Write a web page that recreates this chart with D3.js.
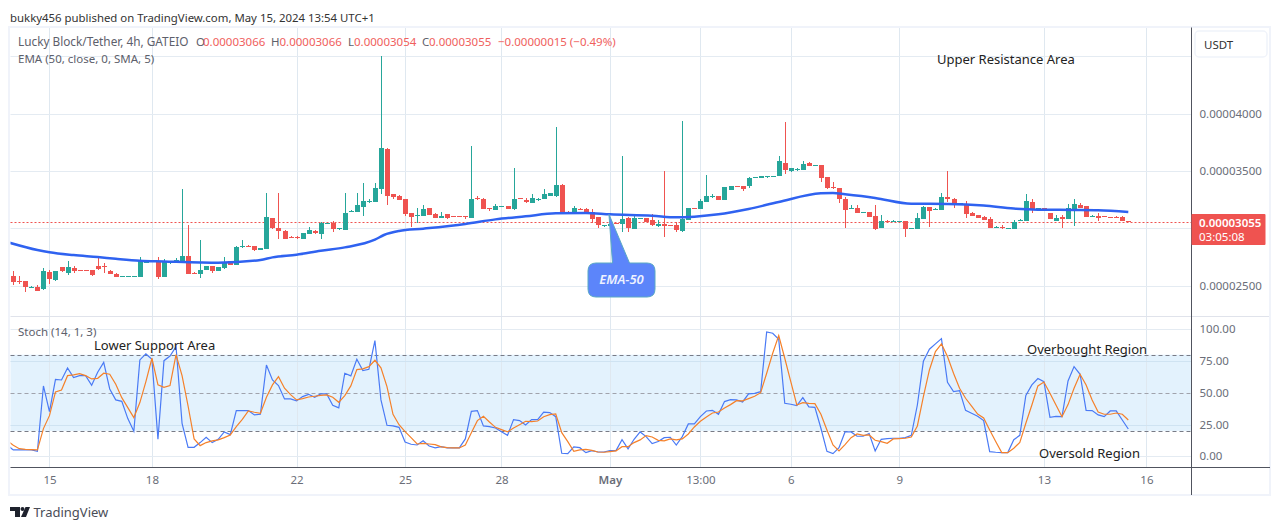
<!DOCTYPE html>
<html>
<head>
<meta charset="utf-8">
<script src="https://cdn.jsdelivr.net/npm/d3@7"></script>
<style>
body { margin: 0; background: #fff; }
svg { display: block; }
text { font-family: "Noto Sans", sans-serif; }
</style>
</head>
<body>
<script>
// prices are in units of 0.00000001
const opens = [2584,2538,2538,2483,2488,2465,2616,2544,2660,2610,
2654,2637,2637,2634,2669,2674,2628,2602,2578,2578,
2578,2578,2701,2724,2715,2578,2692,2715,2718,2759,
2610,2605,2637,2672,2631,2648,2712,2683,2837,2846,
2843,2814,2823,3090,3000,2977,2927,2924,2907,2953,
2980,2953,3041,3047,2994,2988,3145,3145,3189,3233,
3233,3346,3695,3299,3282,3256,3134,3102,3110,3177,
3125,3093,3125,3105,3105,3105,3093,3267,3259,3174,
3160,3189,3195,3172,3262,3244,3224,3253,3256,3282,
3282,3378,3142,3128,3169,3169,3140,3096,3020,3023,
3047,3032,3090,2997,3084,3090,3070,3020,3038,3029,
3026,2977,3076,3177,3172,3233,3279,3282,3250,3337,
3369,3366,3369,3442,3442,3451,3451,3456,3570,3500,
3512,3512,3570,3547,3552,3445,3358,3352,3256,3172,
3177,3137,3142,3108,3000,3061,3055,3055,3064,2997,
2997,3084,3186,3163,3163,3273,3256,3209,3215,3134,
3116,3099,3081,3003,3012,3000,2997,3067,3064,3230,
3166,3177,3134,3064,3099,3084,3160,3203,3195,3102,
3108,3108,3102,3102,3099,3066];
const highs = [2628,2584,2544,2497,2506,2654,2637,2628,2666,2715,
2669,2637,2637,2634,2759,2695,2637,2610,2581,2581,
2581,2747,2724,2724,2747,2730,2712,2744,3343,3029,
2616,2898,2672,2672,2663,2750,2712,2846,2898,2855,
2843,2828,3308,3093,3308,2985,2933,2933,2956,3012,
2988,3052,3047,3061,3000,3308,3160,3308,3395,3256,
3395,4503,3701,3299,3288,3256,3134,3177,3201,3177,
3131,3142,3125,3105,3105,3105,3718,3282,3265,3174,
3212,3195,3195,3526,3265,3262,3299,3267,3343,3308,
3884,3387,3148,3195,3180,3177,3169,3096,3026,3055,
3047,3631,3102,3122,3090,3090,3125,3073,3500,3029,
3052,3936,3177,3177,3259,3465,3302,3282,3360,3369,
3369,3366,3448,3448,3456,3456,3456,3631,3927,3526,
3526,3587,3578,3552,3552,3445,3404,3352,3270,3201,
3201,3142,3142,3203,3116,3070,3070,3061,3064,3003,
3134,3195,3186,3180,3308,3500,3262,3221,3238,3142,
3116,3105,3096,3020,3026,3006,3070,3084,3299,3256,
3177,3177,3134,3116,3116,3212,3256,3221,3195,3116,
3134,3108,3102,3110,3108,3066];
const lows = [2506,2515,2448,2480,2456,2462,2515,2544,2622,2593,
2613,2631,2631,2587,2640,2613,2605,2578,2578,2578,
2578,2578,2701,2712,2561,2578,2692,2715,2715,2605,
2605,2567,2637,2613,2631,2648,2680,2683,2828,2840,
2805,2814,2823,2991,2910,2910,2916,2907,2907,2953,
2951,2910,3041,2971,2988,2988,3145,3145,3110,3218,
3233,3302,3203,3256,3250,3108,3015,3049,3110,3119,
3093,3093,3081,3099,3099,3084,3093,3247,3172,3151,
3160,3189,3172,3160,3256,3224,3224,3241,3256,3282,
3270,3131,3125,3128,3163,3134,3049,3006,3012,3023,
3041,2968,2968,2997,3084,3055,3023,3012,2927,3023,
2968,2968,3076,3172,3172,3233,3267,3250,3250,3337,
3363,3326,3355,3442,3442,3442,3448,3456,3474,3494,
3500,3512,3547,3547,3407,3346,3346,3221,3006,3172,
3137,3137,3102,2988,3000,3047,3055,3055,2927,2997,
2997,3084,3015,3163,3163,3233,3180,3209,3093,3110,
3090,3076,3003,3003,2997,3000,2997,3067,3064,3134,
3166,3166,3084,3064,3006,3084,3020,3180,3099,3102,
3064,3099,3096,3096,3067,3054];
const closes = [2535,2532,2483,2491,2456,2625,2552,2625,2622,2660,
2631,2631,2631,2587,2640,2669,2605,2578,2581,2581,
2581,2715,2724,2712,2578,2715,2712,2721,2759,2605,
2605,2637,2672,2631,2663,2703,2680,2837,2843,2840,
2811,2828,3099,3006,2971,2910,2919,2919,2956,2985,
2959,3047,3047,2997,3000,3134,3154,3203,3238,3238,
3352,3701,3285,3273,3250,3125,3099,3113,3169,3119,
3093,3108,3090,3099,3099,3099,3256,3256,3172,3169,
3192,3195,3172,3256,3256,3224,3265,3259,3299,3308,
3378,3131,3134,3177,3163,3134,3076,3023,3026,3038,
3041,3078,3003,3090,3090,3055,3023,3038,3023,3023,
2980,3078,3177,3172,3238,3282,3285,3250,3360,3369,
3363,3343,3439,3448,3456,3456,3456,3587,3509,3526,
3517,3561,3547,3552,3442,3352,3346,3259,3163,3177,
3137,3142,3102,2994,3061,3055,3061,3061,2997,3003,
3090,3186,3154,3169,3273,3256,3215,3221,3125,3110,
3090,3076,3003,3012,3003,3006,3055,3076,3238,3163,
3177,3166,3084,3090,3084,3177,3212,3180,3099,3108,
3090,3099,3096,3096,3067,3055];

const emaBars = [-1,4,6,10,14,17,21,25,31,34,41,43,47,51,55,60,61.5,64,68,75,80,85,90,95,99,106,110,113,117,122,127,134,136,138,143,149,155,161,166,170,176,180,185];
const emaValues = [2880,2811,2791,2767,2750,2735,2718,2712,2703,2701,2724,2747,2770,2805,2834,2901,2942,2977,2997,3038,3078,3105,3131,3134,3122,3110,3096,3102,3122,3169,3230,3305,3308,3297,3265,3215,3212,3198,3172,3163,3160,3157,3142];

// stoch series start one bar before the first candle
const stochK = [8.7,5.0,5.0,5.3,5.0,3.9,55.4,35.2,60.6,60.1,69.6,62.0,63.5,63.5,55.9,66.2,74.0,53.0,44.4,43.3,29.7,19.7,
75.9,80.6,76.4,13.4,75.3,79.0,86.4,26.0,7.1,7.1,10.8,15.0,10.8,13.4,19.2,17.1,36.0,36.0,36.0,32.6,33.1,71.9,60.1,55.7,
45.2,45.2,43.6,47.0,48.8,46.5,49.1,49.1,40.2,38.1,65.4,63.3,76.4,67.5,68.5,91.1,44.4,24.4,23.9,22.8,11.3,9.5,8.9,12.3,
8.1,6.6,7.6,6.6,6.6,6.6,13.7,35.4,36.0,23.9,23.4,22.3,19.4,16.5,28.9,28.1,24.7,28.9,28.9,34.7,34.4,31.2,2.4,2.1,7.4,
6.8,2.9,4.5,3.4,3.4,4.5,4.5,13.1,5.8,13.4,19.2,15.5,10.0,11.6,14.7,15.0,8.9,15.5,25.5,25.5,31.2,35.7,36.2,33.1,43.1,
44.6,44.4,42.8,49.1,49.6,50.9,97.9,96.9,92.1,41.7,41.0,39.9,46.2,38.9,38.6,22.1,3.9,2.1,6.8,19.2,19.2,15.8,15.8,17.9,
4.2,13.4,13.9,14.2,14.2,14.7,16.5,40.4,74.8,84.3,88.5,92.7,58.3,50.9,51.7,36.2,33.9,31.5,28.1,3.7,3.2,2.9,2.9,13.1,
16.5,48.0,56.2,61.2,58.8,30.7,31.5,31.2,59.3,70.6,64.6,36.2,36.0,32.6,31.2,35.7,35.7,28.6,21.5];
const stochD = [12.3,8.7,6.0,5.5,5.3,5.0,21.8,32.0,50.7,52.2,63.5,64.1,65.1,63.5,60.9,61.4,65.4,64.6,56.7,46.2,38.3,30.5,
42.3,58.8,77.2,56.2,54.3,55.7,80.1,63.5,39.6,13.7,8.4,10.8,12.1,12.9,14.7,16.8,23.4,29.1,35.7,34.7,33.9,46.5,56.2,62.7,
53.6,48.6,44.4,45.4,46.7,47.3,48.0,48.3,46.5,42.5,47.8,55.4,68.3,68.8,70.6,75.6,69.6,54.9,33.1,24.9,19.4,14.7,9.7,10.2,
9.7,9.2,7.4,6.8,6.6,6.6,8.9,18.6,28.1,31.5,27.0,22.8,21.0,19.2,22.3,24.9,27.6,27.3,27.8,31.2,32.8,33.3,18.6,11.6,3.9,
5.0,5.5,4.7,3.4,3.2,3.7,4.2,7.6,7.6,10.8,12.9,16.3,15.2,12.6,12.1,13.7,12.9,13.7,17.6,23.1,27.6,31.0,34.1,34.9,38.1,
40.7,43.8,43.6,45.4,47.3,50.1,65.4,81.1,95.0,77.2,58.8,40.4,42.3,41.7,41.5,33.1,20.7,8.9,4.2,9.2,14.7,17.6,16.5,16.8,
12.6,11.6,10.2,13.7,13.9,14.2,15.2,23.9,47.0,68.0,82.4,88.5,78.5,65.4,53.6,45.7,39.6,33.3,30.2,20.7,11.6,2.9,2.9,6.3,
11.0,26.0,40.4,55.4,58.5,49.6,40.4,31.2,40.7,53.6,64.6,56.2,44.4,34.9,33.1,33.1,34.1,33.1,28.6];

const timeBars = [6,23,47,65,81,99,114,129,147,171,188];
const timeLabels = ["15","18","22","25","28","May","13:00","6","9","13","16"];
const priceTicks = [2500,3000,3500,4000,4500];
const priceLabelTicks = [2500,3500,4000];
const stochTicks = [0,25,50,75,100];
const lastPrice = 3055;

const width = 1281, height = 530;
const paneLeft = 10.5, paneRight = 1191.5, paneTop = 27.5, paneSep = 316.5, paneBottom = 467.5;
const green = "#26a69a", red = "#ef5350", grid = "#e4ebf2", axisText = "#6a6d78";
const axisFont = 11.5;

var x = d3.scaleLinear().domain([0, 185]).range([13.3, 1128.3]);
var y = d3.scaleLinear().domain([2500, 4000]).range([285.7, 113.6]);
var yStoch = d3.scaleLinear().domain([0, 100]).range([456.3, 329.3]);

var svg = d3.select("body").append("svg")
  .attr("width", width)
  .attr("height", height);

svg.append("text").attr("x", 10).attr("y", 22)
  .attr("font-size", 11.4).attr("fill", "#333")
  .text("bukky456 published on TradingView.com, May 15, 2024 13:54 UTC+1");

// frame
svg.append("rect").attr("x", 9).attr("y", 27).attr("width", 1261).attr("height", 468)
  .attr("fill", "#fff").attr("stroke", "#f0f3fa").attr("stroke-width", 2);

var defs = svg.append("defs");
defs.append("clipPath").attr("id", "mainClip").append("rect")
  .attr("x", paneLeft).attr("y", paneTop).attr("width", paneRight - paneLeft).attr("height", paneSep - paneTop);
defs.append("clipPath").attr("id", "stochClip").append("rect")
  .attr("x", paneLeft).attr("y", paneSep).attr("width", paneRight - paneLeft).attr("height", paneBottom - paneSep);

// stoch band sits under the grid
svg.append("rect")
  .attr("x", paneLeft).attr("width", paneRight - paneLeft)
  .attr("y", yStoch(80)).attr("height", yStoch(20) - yStoch(80))
  .attr("fill", "#e3f2fd");

// grid + time axis
var timeAxis = d3.axisBottom(x)
  .tickValues(timeBars)
  .tickSize(-(paneBottom - paneTop))
  .tickPadding(8)
  .tickFormat(function(d, i) { return timeLabels[i]; });
var timeG = svg.append("g")
  .attr("transform", "translate(0," + paneBottom + ")")
  .call(timeAxis);
timeG.select(".domain").remove();
timeG.selectAll("line").attr("stroke", "#dfe8f0").attr("shape-rendering", "crispEdges");
timeG.selectAll("text").attr("fill", axisText).attr("font-size", axisFont)
  .attr("font-family", '"Noto Sans", sans-serif')
  .attr("font-weight", function(d, i) { return timeLabels[i] == "May" ? 600 : 400; });

svg.append("g").selectAll("line").data(priceTicks).enter().append("line")
  .attr("x1", paneLeft).attr("x2", paneRight)
  .attr("y1", function(d) { return Math.round(y(d)) + 0.5; })
  .attr("y2", function(d) { return Math.round(y(d)) + 0.5; })
  .attr("stroke", grid);

svg.append("g").selectAll("line").data(stochTicks.filter(function(d) { return d != 50; })).enter().append("line")
  .attr("x1", paneLeft).attr("x2", paneRight)
  .attr("y1", function(d) { return Math.round(yStoch(d)) + 0.5; })
  .attr("y2", function(d) { return Math.round(yStoch(d)) + 0.5; })
  .attr("stroke", function(d) { return d == 25 || d == 75 ? "#cfe3f2" : grid; });

svg.append("line").attr("x1", paneLeft).attr("x2", 1269).attr("y1", paneSep).attr("y2", paneSep).attr("stroke", "#e0e3eb");

// last price dotted line
svg.append("line")
  .attr("x1", paneLeft).attr("x2", paneRight)
  .attr("y1", Math.round(y(lastPrice)) + 0.5).attr("y2", Math.round(y(lastPrice)) + 0.5)
  .attr("stroke", red).attr("stroke-width", 1).attr("stroke-dasharray", "2,2");

// candles
var candles = svg.append("g").attr("clip-path", "url(#mainClip)")
  .selectAll("g").data(d3.range(opens.length)).enter().append("g")
  .attr("shape-rendering", "crispEdges");
var colour = function(i) { return closes[i] >= opens[i] ? green : red; };
candles.append("line")
  .attr("x1", function(i) { return Math.round(x(i)) + 0.5; })
  .attr("x2", function(i) { return Math.round(x(i)) + 0.5; })
  .attr("y1", function(i) { return y(highs[i]); })
  .attr("y2", function(i) { return y(lows[i]); })
  .attr("stroke", colour);
candles.append("rect")
  .attr("x", function(i) { return Math.round(x(i)) - 2; })
  .attr("width", 5)
  .attr("y", function(i) { return Math.round(y(Math.max(opens[i], closes[i]))); })
  .attr("height", function(i) { return Math.max(1, Math.round(Math.abs(y(opens[i]) - y(closes[i])))); })
  .attr("fill", colour);

// EMA
var emaLine = d3.line()
  .x(function(d, i) { return x(emaBars[i]); })
  .y(function(d) { return y(d); })
  .curve(d3.curveMonotoneX);
svg.append("path").attr("clip-path", "url(#mainClip)")
  .attr("d", emaLine(emaValues))
  .attr("fill", "none").attr("stroke", "#2f62f0").attr("stroke-width", 2.5);

// EMA-50 callout
var tipX = x(99) - 1, tipY = y(3122);
svg.append("path")
  .attr("d", "M596,263 L" + (tipX + 3.5) + ",263 L" + tipX + "," + tipY + " L629.5,263 L647,263 Q655,263 655,271 L655,289 Q655,297 647,297 L596,297 Q588,297 588,289 L588,271 Q588,263 596,263 Z")
  .attr("fill", "#5c85fa").attr("stroke", "#5aa9c4").attr("stroke-width", 1);
svg.append("text").attr("x", 621.5).attr("y", 284).attr("text-anchor", "middle")
  .attr("font-size", 13).attr("font-style", "italic").attr("font-weight", 600)
  .attr("fill", "#eef2ff").text("EMA-50");

// stoch levels
svg.append("g").selectAll("line").data([80, 50, 20]).enter().append("line")
  .attr("x1", paneLeft).attr("x2", paneRight)
  .attr("y1", function(d) { return Math.round(yStoch(d)) + 0.5; })
  .attr("y2", function(d) { return Math.round(yStoch(d)) + 0.5; })
  .attr("stroke", function(d) { return d == 50 ? "#a0a3ac" : "#787b86"; })
  .attr("stroke-dasharray", "4,3");

var stochLine = d3.line()
  .x(function(d, i) { return x(i - 1); })
  .y(function(d) { return yStoch(d); });
var stochG = svg.append("g").attr("clip-path", "url(#stochClip)");
stochG.append("path").attr("d", stochLine(stochK))
  .attr("fill", "none").attr("stroke", "#4a7af5").attr("stroke-width", 1.2);
stochG.append("path").attr("d", stochLine(stochD))
  .attr("fill", "none").attr("stroke", "#f5812a").attr("stroke-width", 1.2);

// axis lines
svg.append("line").attr("x1", paneRight).attr("x2", paneRight).attr("y1", paneTop).attr("y2", 495).attr("stroke", "#50535e");
svg.append("line").attr("x1", paneLeft).attr("x2", 1270).attr("y1", paneBottom).attr("y2", paneBottom).attr("stroke", "#50535e");

// price axis
var priceAxis = d3.axisRight(y).tickValues(priceLabelTicks).tickSize(0).tickPadding(8)
  .tickFormat(function(d) { return (d / 1e8).toFixed(8); });
var priceG = svg.append("g").attr("transform", "translate(" + paneRight + ",0)").call(priceAxis);
priceG.select(".domain").remove();
priceG.selectAll("text").attr("fill", axisText).attr("font-size", axisFont)
  .attr("font-family", '"Noto Sans", sans-serif');

var stochAxis = d3.axisRight(yStoch).tickValues(stochTicks).tickSize(0).tickPadding(8)
  .tickFormat(function(d) { return d.toFixed(2); });
var stochAxisG = svg.append("g").attr("transform", "translate(" + paneRight + ",0)").call(stochAxis);
stochAxisG.select(".domain").remove();
stochAxisG.selectAll("text").attr("fill", axisText).attr("font-size", axisFont)
  .attr("font-family", '"Noto Sans", sans-serif');

// USDT button
svg.append("rect").attr("x", 1195).attr("y", 31).attr("width", 72).attr("height", 26).attr("rx", 4)
  .attr("fill", "#fff").attr("stroke", "#f0f3fa").attr("stroke-width", 1.5);
svg.append("text").attr("x", 1204).attr("y", 49).attr("font-size", axisFont).attr("fill", "#333").text("USDT");

// last price label
svg.append("rect").attr("x", paneRight).attr("y", 214).attr("width", 74).attr("height", 31).attr("rx", 1).attr("fill", red);
svg.append("text").attr("x", 1199).attr("y", 226.5).attr("font-size", axisFont).attr("font-weight", 600).attr("fill", "#fff")
  .text((lastPrice / 1e8).toFixed(8));
svg.append("text").attr("x", 1199).attr("y", 241).attr("font-size", axisFont).attr("fill", "#fff").text("03:05:08");

// legend
var legendGrey = "#5d606b", legendRed = "#f0605d";
var legendRuns = [
  [18, "Lucky Block/Tether, 4h, GATEIO", legendGrey, 11.8],
  [196, "O", legendGrey, axisFont], [203, "0.00003066", legendRed, axisFont],
  [271, "H", legendGrey, axisFont], [279.5, "0.00003066", legendRed, axisFont],
  [348, "L", legendGrey, axisFont], [354, "0.00003054", legendRed, axisFont],
  [422, "C", legendGrey, axisFont], [429, "0.00003055", legendRed, axisFont],
  [498, "\u22120.00000015 (\u22120.49%)", legendRed, axisFont]
];
svg.append("g").selectAll("text").data(legendRuns).enter().append("text")
  .attr("x", function(d) { return d[0]; }).attr("y", 46)
  .attr("font-size", function(d) { return d[3]; }).attr("fill", function(d) { return d[2]; })
  .text(function(d) { return d[1]; });
svg.append("text").attr("x", 18).attr("y", 63).attr("font-size", axisFont).attr("fill", legendGrey).text("EMA (50, close, 0, SMA, 5)");
svg.append("text").attr("x", 18).attr("y", 336).attr("font-size", axisFont).attr("fill", legendGrey).text("Stoch (14, 1, 3)");

// drawn notes
var notes = [
  [937, 64, "Upper Resistance Area"],
  [94, 350, "Lower Support Area"],
  [1027, 354, "Overbought Region"],
  [1039, 458, "Oversold Region"]
];
svg.append("g").selectAll("text").data(notes).enter().append("text")
  .attr("x", function(d) { return d[0]; }).attr("y", function(d) { return d[1]; })
  .attr("font-size", 13).attr("fill", "#222")
  .text(function(d) { return d[2]; });

// TradingView mark
var logo = svg.append("g").attr("fill", "#1e222d");
logo.append("path").attr("d", "M10,507 H20 V517 H15 V511 H10 Z");
logo.append("circle").attr("cx", 22.5).attr("cy", 509).attr("r", 2);
logo.append("path").attr("d", "M25.5,507 H30 L26,517 H21 Z");
svg.append("text").attr("x", 33.5).attr("y", 517).attr("font-size", 13).attr("fill", "#4a4d57").text("TradingView");
</script>
</body>
</html>
